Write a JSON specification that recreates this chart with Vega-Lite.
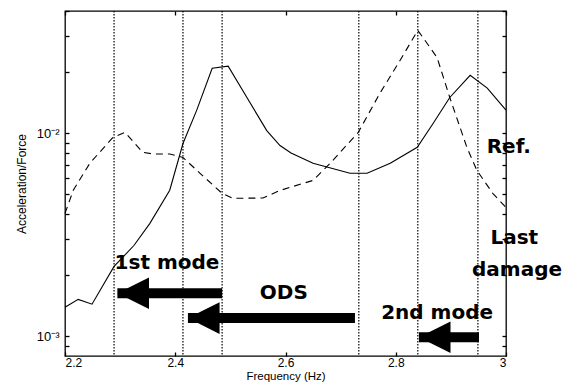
{
  "$schema": "https://vega.github.io/schema/vega-lite/v6.json",
  "width": 441,
  "height": 345,
  "autosize": "none",
  "padding": {"left": 65, "top": 11, "right": 63, "bottom": 29},
  "background": "white",
  "config": {
    "view": {"stroke": "black", "strokeWidth": 1.3},
    "axis": {"grid": false, "domain": false, "zindex": 1, "tickColor": "black", "tickWidth": 1.3, "labelColor": "black", "titleColor": "black", "labelFont": "Liberation Sans", "titleFont": "Liberation Sans", "titleFontWeight": "normal"}
  },
  "datasets": {
    "solid": [
      {"f": 2.200, "v": 0.00139}, {"f": 2.224, "v": 0.00152}, {"f": 2.249, "v": 0.00144},
      {"f": 2.289, "v": 0.00221}, {"f": 2.325, "v": 0.0028}, {"f": 2.354, "v": 0.0036},
      {"f": 2.390, "v": 0.00524}, {"f": 2.414, "v": 0.0089}, {"f": 2.439, "v": 0.0130},
      {"f": 2.467, "v": 0.0209}, {"f": 2.496, "v": 0.0214}, {"f": 2.530, "v": 0.0150},
      {"f": 2.566, "v": 0.0103}, {"f": 2.590, "v": 0.0087}, {"f": 2.610, "v": 0.0080},
      {"f": 2.650, "v": 0.00711}, {"f": 2.717, "v": 0.00635}, {"f": 2.748, "v": 0.00635},
      {"f": 2.790, "v": 0.00711}, {"f": 2.839, "v": 0.00853}, {"f": 2.868, "v": 0.0112},
      {"f": 2.898, "v": 0.0150}, {"f": 2.935, "v": 0.0193}, {"f": 2.966, "v": 0.0167},
      {"f": 3.000, "v": 0.0130}
    ],
    "dashed": [
      {"f": 2.200, "v": 0.00403}, {"f": 2.215, "v": 0.00524}, {"f": 2.245, "v": 0.00711},
      {"f": 2.287, "v": 0.00955}, {"f": 2.309, "v": 0.0101}, {"f": 2.341, "v": 0.00806},
      {"f": 2.360, "v": 0.0079}, {"f": 2.390, "v": 0.0079}, {"f": 2.414, "v": 0.0076},
      {"f": 2.445, "v": 0.00635}, {"f": 2.485, "v": 0.00506}, {"f": 2.505, "v": 0.00478},
      {"f": 2.559, "v": 0.0048}, {"f": 2.590, "v": 0.00523}, {"f": 2.650, "v": 0.00586},
      {"f": 2.681, "v": 0.00711}, {"f": 2.732, "v": 0.0101}, {"f": 2.771, "v": 0.0157},
      {"f": 2.808, "v": 0.0229}, {"f": 2.840, "v": 0.0321}, {"f": 2.849, "v": 0.0297},
      {"f": 2.875, "v": 0.0236}, {"f": 2.898, "v": 0.0150}, {"f": 2.929, "v": 0.00853},
      {"f": 2.947, "v": 0.00658}, {"f": 2.976, "v": 0.00506}, {"f": 3.000, "v": 0.00431}
    ],
    "vlines": [{"f": 2.289}, {"f": 2.414}, {"f": 2.485}, {"f": 2.733}, {"f": 2.840}, {"f": 2.949}],
    "arrows": [
      {"tip": 2.295, "tail": 2.485, "v": 0.00163},
      {"tip": 2.423, "tail": 2.726, "v": 0.00123},
      {"tip": 2.842, "tail": 2.951, "v": 0.00099}
    ],
    "labels": [
      {"t": "1st mode", "f": 2.385, "v": 0.00229},
      {"t": "ODS", "f": 2.597, "v": 0.00163},
      {"t": "2nd mode", "f": 2.875, "v": 0.00131},
      {"t": "Ref.", "f": 3.005, "v": 0.00853},
      {"t": "Last", "f": 3.015, "v": 0.00304},
      {"t": "damage", "f": 3.020, "v": 0.00211}
    ]
  },
  "layer": [
    {
      "data": {"name": "solid"},
      "mark": {"type": "line", "color": "black", "strokeWidth": 1.1},
      "encoding": {
        "x": {"field": "f", "type": "quantitative", "scale": {"domain": [2.2, 3], "nice": false, "zero": false},
          "axis": {"orient": "bottom", "title": "Frequency (Hz)", "titleFontSize": 11.5, "titlePadding": 2, "values": [2.2, 2.4, 2.6, 2.8, 3], "format": "~g", "labelFontSize": 12, "tickSize": -4, "labelPadding": 5}},
        "y": {"field": "v", "type": "quantitative", "scale": {"type": "log", "domain": [0.0008, 0.04], "nice": false},
          "axis": {"orient": "left", "title": "Acceleration/Force", "titleFontSize": 12, "titlePadding": 8,
            "values": [0.0009, 0.001, 0.002, 0.003, 0.004, 0.005, 0.006, 0.007, 0.008, 0.009, 0.01, 0.02, 0.03, 0.04],
            "labelExpr": "datum.value == 0.001 ? '10⁻³' : (datum.value == 0.01 ? '10⁻²' : '')",
            "labelFontSize": 13, "tickSize": -4, "labelPadding": 10}}
      }
    },
    {
      "data": {"name": "dashed"},
      "mark": {"type": "line", "color": "black", "strokeWidth": 1.1, "strokeDash": [7, 5]},
      "encoding": {
        "x": {"field": "f", "type": "quantitative", "axis": {"orient": "top", "title": null, "labels": false, "values": [2.2, 2.4, 2.6, 2.8, 3], "tickSize": -4}},
        "y": {"field": "v", "type": "quantitative",
          "axis": {"orient": "right", "title": null, "labels": false,
            "values": [0.0009, 0.001, 0.002, 0.003, 0.004, 0.005, 0.006, 0.007, 0.008, 0.009, 0.01, 0.02, 0.03, 0.04], "tickSize": -4}}
      }
    },
    {
      "data": {"name": "vlines"},
      "mark": {"type": "rule", "color": "black", "strokeWidth": 1.2, "strokeDash": [1.5, 1.5]},
      "encoding": {"x": {"field": "f", "type": "quantitative", "axis": null}}
    },
    {
      "data": {"name": "arrows"},
      "mark": {"type": "rule", "color": "black", "strokeWidth": 10, "strokeCap": "butt"},
      "encoding": {
        "x": {"field": "tip", "type": "quantitative", "axis": null},
        "x2": {"field": "tail"},
        "y": {"field": "v", "type": "quantitative", "axis": null}
      }
    },
    {
      "data": {"name": "arrows"},
      "mark": {"type": "point", "shape": "M 0 0 L 2 -1 L 2 1 Z", "size": 1000, "filled": true, "color": "black", "opacity": 1, "strokeWidth": 0},
      "encoding": {
        "x": {"field": "tip", "type": "quantitative", "axis": null},
        "y": {"field": "v", "type": "quantitative", "axis": null}
      }
    },
    {
      "data": {"name": "labels"},
      "mark": {"type": "text", "font": "DejaVu Sans", "fontWeight": "bold", "fontSize": 20, "align": "center", "baseline": "middle", "color": "black"},
      "encoding": {
        "x": {"field": "f", "type": "quantitative", "axis": null},
        "y": {"field": "v", "type": "quantitative", "axis": null},
        "text": {"field": "t"}
      }
    }
  ],
  "resolve": {"axis": {"x": "independent", "y": "independent"}}
}
